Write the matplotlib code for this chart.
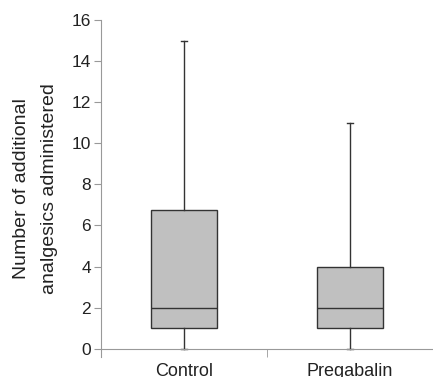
import matplotlib
matplotlib.use("Agg")
import matplotlib.pyplot as plt

plt.rcParams['font.family'] = ['Liberation Sans', 'DejaVu Sans']

groups = ["Control", "Pregabalin"]
whisker_low = [0, 0]
q1 = [1, 1]
median = [2, 2]
q3 = [6.75, 4]
whisker_high = [15, 11]
y_ticks = [0, 2, 4, 6, 8, 10, 12, 14, 16]

stats = []
for i, name in enumerate(groups):
    stats.append({"label": name, "whislo": whisker_low[i], "q1": q1[i], "med": median[i],
                  "q3": q3[i], "whishi": whisker_high[i], "fliers": []})

fig = plt.figure(figsize=(4.33, 3.77), dpi=100)
ax = fig.add_axes([0.233, 0.053, 0.767, 0.894])

edge = "#333333"
ax.bxp(stats, positions=[1, 2], widths=0.4, patch_artist=True, showfliers=False,
       boxprops=dict(facecolor="#c0c0c0", edgecolor=edge, linewidth=1.0),
       medianprops=dict(color=edge, linewidth=1.0),
       whiskerprops=dict(color=edge, linewidth=1.0),
       capprops=dict(color=edge, linewidth=1.0), capwidths=0.035)

ax.set_xlim(0.5, 2.5)
ax.set_ylim(-0.4, 16)
ax.set_yticks(y_ticks)
ax.set_xticks([1, 2])
ax.set_xticklabels(groups)
ax.set_xticks([1.5], minor=True)

spine_c = "#999999"
for s in ["top", "right"]:
    ax.spines[s].set_visible(False)
ax.spines["bottom"].set_position(("data", 0))
ax.spines["bottom"].set_color(spine_c)
ax.spines["left"].set_color(spine_c)

ax.tick_params(axis="x", which="major", length=0, pad=10, labelsize=13, labelcolor="#222222")
ax.tick_params(axis="x", which="minor", length=5.5, color=spine_c, direction="out")
ax.tick_params(axis="y", length=5, color=spine_c, pad=2, labelsize=12.5, labelcolor="#222222")

ax.set_ylabel("Number of additional\nanalgesics administered", fontsize=14,
              linespacing=1.85, color="#222222")
ax.yaxis.set_label_coords(-0.13, 0.5)

fig.savefig("out.png", dpi=100)
